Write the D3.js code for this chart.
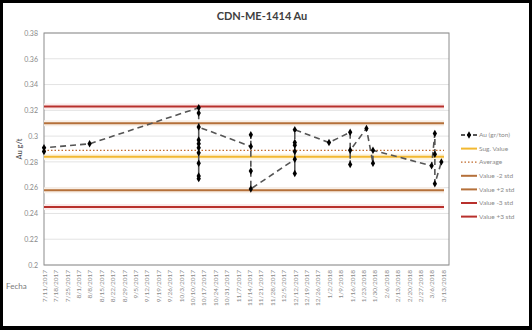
<!DOCTYPE html>
<html>
<head>
<meta charset="utf-8">
<script src="https://cdn.jsdelivr.net/npm/d3@7"></script>
<style>
  body { margin: 0; background: #fff; }
  text { font-family: Lato, "Open Sans", sans-serif; }
</style>
</head>
<body>
<svg id="chart" width="532" height="330"></svg>
<script>
// ---- data
const weekLabels = ["7/11/2017","7/18/2017","7/25/2017","8/1/2017","8/8/2017","8/15/2017","8/22/2017","8/29/2017",
  "9/5/2017","9/12/2017","9/19/2017","9/26/2017","10/3/2017","10/10/2017","10/17/2017","10/24/2017","10/31/2017",
  "11/7/2017","11/14/2017","11/21/2017","11/28/2017","12/5/2017","12/12/2017","12/19/2017","12/26/2017",
  "1/2/2018","1/9/2018","1/16/2018","1/23/2018","1/30/2018","2/6/2018","2/13/2018","2/20/2018","2/27/2018",
  "3/6/2018","3/13/2018"];

const auDates = ["7/11/2017","7/11/2017","8/8/2017",
  "10/14/2017","10/14/2017","10/14/2017","10/14/2017","10/14/2017","10/14/2017","10/14/2017","10/14/2017","10/14/2017","10/14/2017",
  "11/15/2017","11/15/2017","11/15/2017","11/15/2017",
  "12/12/2017","12/12/2017","12/12/2017","12/12/2017","12/12/2017","12/12/2017",
  "1/2/2018","1/15/2018","1/15/2018","1/15/2018","1/25/2018","1/29/2018","1/29/2018",
  "3/6/2018","3/8/2018","3/8/2018","3/8/2018","3/12/2018"];
const auValues = [0.288,0.291,0.294,
  0.322,0.318,0.297,0.294,0.291,0.287,0.279,0.269,0.267,0.307,
  0.292,0.301,0.273,0.259,
  0.282,0.271,0.288,0.293,0.295,0.305,
  0.295,0.303,0.278,0.289,0.306,0.279,0.289,
  0.277,0.302,0.286,0.263,0.280];

const refNames  = ["Sug. Value","Average","Value -2 std","Value +2 std","Value -3 std","Value +3 std"];
const refValues = [0.284, 0.289, 0.258, 0.310, 0.245, 0.323];
const refColors = ["#f2b830","#c0692a","#b5703a","#b5703a","#b8302c","#b8302c"];
const refGlow   = ["#fdf3dd",null,"#f8efe7","#f8efe7","#fbeaea","#fbeaea"];

const yTicks = [0.2,0.22,0.24,0.26,0.28,0.3,0.32,0.34,0.36,0.38];

// ---- layout
const svg = d3.select("#chart");
const pLeft = 44, pRight = 449, pTop = 33, pBottom = 265;
const parse = d3.timeParse("%m/%d/%Y");

svg.append("rect").attr("width",532).attr("height",330).attr("fill","#000");
svg.append("rect").attr("x",3).attr("y",3).attr("width",526).attr("height",323).attr("fill","#fff");

const x = d3.scaleTime()
  .domain([parse("7/11/2017"), parse("3/13/2018")])
  .range([pLeft, 443]);
const y = d3.scaleLinear().domain([0.2, 0.38]).range([pBottom, pTop]);

// gridlines
svg.append("g").selectAll("line").data(yTicks).join("line")
  .attr("x1",pLeft).attr("x2",pRight)
  .attr("y1",d=>y(d)).attr("y2",d=>y(d))
  .attr("stroke","#e3e3e3").attr("stroke-width",1);

// plot border
svg.append("rect").attr("x",pLeft).attr("y",pTop)
  .attr("width",pRight-pLeft).attr("height",pBottom-pTop)
  .attr("fill","none").attr("stroke","#8c8c8c").attr("stroke-width",1);

// y axis labels
const yAxis = d3.axisLeft(y).tickValues(yTicks).tickSize(0).tickPadding(6)
  .tickFormat(d => String(+d.toFixed(2)));
const yG = svg.append("g").attr("transform",`translate(${pLeft},0)`).call(yAxis);
yG.select(".domain").remove();
yG.selectAll("text").attr("fill","#8a8a8a").style("font-size","7px");

// x axis labels
const xAxis = d3.axisBottom(x).tickValues(weekLabels.map(parse)).tickSize(0)
  .tickFormat(d3.timeFormat("%-m/%-d/%Y"));
const xG = svg.append("g").attr("transform",`translate(0,${pBottom})`).call(xAxis);
xG.select(".domain").remove();
xG.selectAll("text")
  .attr("transform","rotate(-90)")
  .attr("x",-5).attr("y",0).attr("dy","0.35em")
  .attr("text-anchor","end")
  .attr("fill","#8a8a8a").style("font-size","6.5px");

// reference lines
const [x0, x1] = x.range();
refValues.forEach((v,i) => {
  if (refGlow[i]) {
    svg.append("line").attr("x1",x0).attr("x2",x1+1).attr("y1",y(v)).attr("y2",y(v))
      .attr("stroke",refGlow[i]).attr("stroke-width",6);
  }
});
refValues.forEach((v,i) => {
  svg.append("line").attr("x1",x0).attr("x2",x1+1).attr("y1",y(v)).attr("y2",y(v))
    .attr("stroke",refColors[i])
    .attr("stroke-width", i===1 ? 1.3 : 2)
    .attr("stroke-dasharray", i===1 ? "1.5,2" : null);
});

// Au series
const au = auDates.map((d,i)=>({date:parse(d), v:auValues[i]}));
svg.append("path").datum(au)
  .attr("d", d3.line().x(d=>x(d.date)).y(d=>y(d.v)))
  .attr("fill","none").attr("stroke","#555").attr("stroke-width",1.6)
  .attr("stroke-dasharray","6,4");
svg.append("g").selectAll("path").data(au).join("path")
  .attr("transform", d=>`translate(${x(d.date)},${y(d.v)})`)
  .attr("d", d3.symbol(d3.symbolDiamond, 16))
  .attr("fill","#000");

// title
svg.append("text").attr("x",262).attr("y",20).attr("text-anchor","middle")
  .text("CDN-ME-1414 Au").attr("fill","#404040")
  .style("font-size","11px").style("font-weight",700);

// axis titles
svg.append("text").attr("transform",`translate(22,${(pTop+pBottom)/2}) rotate(-90)`)
  .attr("text-anchor","middle").text("Au g/t").attr("fill","#404040").style("font-size","7.5px");
svg.append("text").attr("x",6).attr("y",289).text("Fecha")
  .attr("fill","#7a7a7a").style("font-size","8px");

// legend
const legNames = ["Au (gr/ton)", ...refNames];
const legY = d3.range(legNames.length).map(i => 135 + i*13.6);
const leg = svg.append("g").selectAll("g").data(legNames).join("g")
  .attr("transform",(d,i)=>`translate(461,${legY[i]})`);
leg.append("line").attr("x1",0).attr("x2",16).attr("y1",0).attr("y2",0)
  .attr("stroke",(d,i)=> i===0 ? "#555" : refColors[i-1])
  .attr("stroke-width",(d,i)=> i===2 ? 1.3 : 2)
  .attr("stroke-dasharray",(d,i)=> i===0 ? "4,2" : (i===2 ? "1.5,2" : null));
leg.filter((d,i)=>i===0).append("path")
  .attr("transform","translate(8,0)")
  .attr("d", d3.symbol(d3.symbolDiamond, 16)).attr("fill","#000");
leg.append("text").attr("x",18).attr("y",0).attr("dy","0.35em")
  .text(d=>d).attr("fill","#8a8a8a").style("font-size","6.5px");
</script>
</body>
</html>
